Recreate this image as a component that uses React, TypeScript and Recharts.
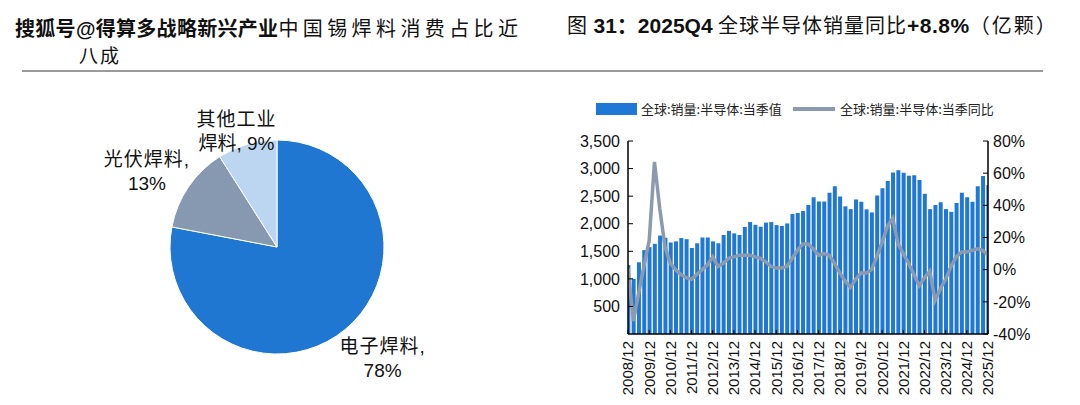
import React from 'react';
import { ComposedChart, Bar, Line, XAxis, YAxis, PieChart, Pie, Cell } from 'recharts';

// ---------- Pie data ----------
const pieNames = ['电子焊料', '光伏焊料', '其他工业焊料'];
const pieValues = [78, 13, 9];
const pieColors = ['#1F77D2', '#8799B1', '#BCD6F2'];

// ---------- Combo chart data (quarterly, 2008Q4 .. 2025Q4) ----------
const xTickLabels = [
  '2008/12', '2009/12', '2010/12', '2011/12', '2012/12', '2013/12', '2014/12', '2015/12', '2016/12',
  '2017/12', '2018/12', '2019/12', '2020/12', '2021/12', '2022/12', '2023/12', '2024/12', '2025/12',
];

// 全球:销量:半导体:当季值 (亿颗)
const salesVolume = [
  1250, 1000, 1300, 1520, 1575, 1635, 1785, 1745, 1660, 1680,
  1740, 1720, 1560, 1645, 1750, 1750, 1680, 1645, 1795, 1870,
  1825, 1795, 1940, 2030, 1980, 1945, 2020, 2030, 1975, 1960,
  2005, 2175, 2195, 2230, 2340, 2480, 2405, 2405, 2560, 2680,
  2495, 2315, 2265, 2440, 2400, 2260, 2205, 2510, 2645, 2775,
  2930, 2970, 2925, 2870, 2880, 2795, 2545, 2265, 2340, 2390,
  2265, 2215, 2375, 2560, 2480, 2400, 2680, 2865, 2700,
];

// 全球:销量:半导体:当季同比 (%)
const salesYoY = [
  1, -32, -15, 2, 18, 67, 38, 14, 4, 0,
  -3, -5, -6, -3, 0, 3, 8, 2, 4, 7,
  8, 9, 9, 9, 8, 7, 5, 2, 1, 1,
  2, 7, 12, 16, 16, 13, 9, 10, 9, 4,
  -2, -7, -11, -6, -2, -2, 0, 8, 17, 27,
  32, 16, 10, 4, -3, -10, -5, -1, -19, -12,
  -6, 2, 8, 11, 11, 12, 13, 12, 9,
];

const quarterLabels = salesVolume.map((_, i) => {
  const year = 2008 + Math.floor((i + 3) / 4);
  const month = ((i + 3) % 4) * 3 + 3;
  return `${year}/${String(month).padStart(2, '0')}`;
});

const leftTicks = [500, 1000, 1500, 2000, 2500, 3000, 3500];
const rightTicks = [-40, -20, 0, 20, 40, 60, 80];
const xTicks = xTickLabels.map((_, k) => k * 4);

const comboData = salesVolume.map((v, i) => ({ i, q: quarterLabels[i], v, y: salesYoY[i] }));
const pieData = pieNames.map((name, k) => ({ name, value: pieValues[k] }));

const FONT_MIX = "'Liberation Sans', Arial, 'Noto Sans CJK SC', sans-serif";
const FONT_CJK = "'Noto Sans CJK SC', sans-serif";

const BAR_BLUE = '#1F78D5';
const LINE_GRAY = '#8C9AAE';

// label layout styling for the pie (distance from edge + nudges + line split)
const pieLabelStyle = [
  { r: 150, dx: 10, dy: -4, split: 4 },
  { r: 150, dx: -6, dy: 9, split: 4 },
  { r: 120, dx: -7, dy: 0, split: 4 },
];

const RAD = Math.PI / 180;

const renderPieLabel = (props: any) => {
  const { cx, cy, midAngle, outerRadius, index } = props;
  const st = pieLabelStyle[index];
  const r = outerRadius + (st.r - 107);
  const x = cx + r * Math.cos(-midAngle * RAD) + st.dx;
  const y = cy + r * Math.sin(-midAngle * RAD) + st.dy;
  const name = pieNames[index];
  const value = pieValues[index];
  let l1: string;
  let l2: string;
  if (name.length > st.split) {
    l1 = name.slice(0, st.split);
    l2 = `${name.slice(st.split)}, ${value}%`;
  } else {
    l1 = `${name},`;
    l2 = `${value}%`;
  }
  return (
    <text x={x} y={y} textAnchor="middle" fill="#111" fontFamily={FONT_MIX} fontSize={19}>
      <tspan x={x} dy="-0.3em" letterSpacing={1}>{l1}</tspan>
      <tspan x={x} dy="1.25em">{l2}</tspan>
    </text>
  );
};

const XTick = (props: any) => {
  const { x, y, payload } = props;
  const label = xTickLabels[Math.round(payload.value / 4)];
  return (
    <text
      x={x}
      y={y}
      transform={`rotate(-90, ${x}, ${y})`}
      textAnchor="end"
      dy="0.36em"
      fontSize={15}
      fontFamily={FONT_MIX}
      fill="#111"
    >
      {label}
    </text>
  );
};

export default function App() {
  return (
    <div style={{ position: 'absolute', left: 0, top: 0, width: 1080, height: 405, background: '#fff', overflow: 'hidden' }}>
      {/* Pie chart */}
      <div style={{ position: 'absolute', left: 0, top: 85 }}>
        <PieChart width={540} height={320} margin={{ top: 0, right: 0, bottom: 0, left: 0 }}>
          <Pie
            data={pieData}
            dataKey="value"
            nameKey="name"
            cx={277}
            cy={162}
            outerRadius={107}
            startAngle={90}
            endAngle={-270}
            stroke="#ffffff"
            strokeWidth={1}
            label={renderPieLabel}
            labelLine={false}
            isAnimationActive={false}
          >
            {pieData.map((d, k) => (
              <Cell key={d.name} fill={pieColors[k]} />
            ))}
          </Pie>
        </PieChart>
      </div>

      {/* Combo chart */}
      <div style={{ position: 'absolute', left: 540, top: 85 }}>
        <ComposedChart width={540} height={320} data={comboData} margin={{ top: 56, right: 12, bottom: 1, left: 8 }}>
          <XAxis
            dataKey="i"
            type="number"
            domain={[0, 68]}
            ticks={xTicks}
            allowDataOverflow
            interval={0}
            height={70}
            tickSize={-4}
            tickMargin={11}
            tick={<XTick />}
            axisLine={{ stroke: '#000', strokeWidth: 1.5 }}
            tickLine={{ stroke: '#000', strokeWidth: 1 }}
          />
          <YAxis
            yAxisId="left"
            orientation="left"
            domain={[0, 3500]}
            ticks={leftTicks}
            interval={0}
            width={80}
            tickSize={-5}
            tickMargin={13}
            tickFormatter={(v: number) => v.toLocaleString('en-US')}
            tick={{ fontSize: 16, fontFamily: FONT_MIX, fill: '#111' }}
            axisLine={{ stroke: '#000', strokeWidth: 1.5 }}
            tickLine={{ stroke: '#000', strokeWidth: 1 }}
          />
          <YAxis
            yAxisId="right"
            orientation="right"
            domain={[-40, 80]}
            ticks={rightTicks}
            interval={0}
            width={80}
            tickSize={-5}
            tickMargin={10}
            tickFormatter={(v: number) => `${v}%`}
            tick={{ fontSize: 16, fontFamily: FONT_MIX, fill: '#111', textAnchor: 'start' }}
            axisLine={{ stroke: '#000', strokeWidth: 1.5 }}
            tickLine={{ stroke: '#000', strokeWidth: 1 }}
          />
          <Bar yAxisId="left" dataKey="v" fill={BAR_BLUE} barSize={4} isAnimationActive={false} />
          <Line
            yAxisId="right"
            dataKey="y"
            type="linear"
            stroke={LINE_GRAY}
            strokeWidth={3.5}
            dot={false}
            activeDot={false}
            isAnimationActive={false}
          />
        </ComposedChart>
      </div>

      {/* Titles, rule and legend */}
      <svg width={1080} height={405} style={{ position: 'absolute', left: 0, top: 0, pointerEvents: 'none' }}>
        <text x={15} y={36} fontSize={20} fontFamily={FONT_MIX} fill="#111">
          <tspan fontWeight="bold" letterSpacing={0.3}>搜狐号@得算多战略新兴产业</tspan>
          <tspan letterSpacing={4.4} fontFamily={FONT_CJK}>中国锡焊料消费占比近</tspan>
        </text>
        <text x={79} y={63} fontSize={19} fontFamily={FONT_CJK} fill="#111" letterSpacing={2}>八成</text>
        <text x={567} y={33} fontSize={20} fontFamily={FONT_MIX} fill="#111">
          <tspan fontFamily={FONT_CJK} letterSpacing={1}>图 </tspan>
          <tspan fontWeight="bold" fontSize={21}>31：</tspan>
          <tspan fontWeight="bold" fontSize={21}>2025Q4</tspan>
          <tspan fontFamily={FONT_CJK} letterSpacing={1}> 全球半导体销量同比</tspan>
          <tspan fontWeight="bold" fontSize={21} letterSpacing={0.5}>+8.8%</tspan>
          <tspan fontFamily={FONT_CJK} letterSpacing={2}>（亿颗）</tspan>
        </text>
        <line x1={22} y1={71} x2={1043} y2={71} stroke="#7a7a7a" strokeWidth={1.5} />

        {/* legend */}
        <rect x={596} y={103} width={41} height={12} fill={BAR_BLUE} />
        <text x={641} y={114} fontSize={13} fontFamily={FONT_CJK} fill="#222">全球:销量:半导体:当季值</text>
        <line x1={793} y1={109} x2={835} y2={109} stroke={LINE_GRAY} strokeWidth={4} />
        <text x={840} y={114} fontSize={13} fontFamily={FONT_CJK} fill="#222">全球:销量:半导体:当季同比</text>
      </svg>
    </div>
  );
}
